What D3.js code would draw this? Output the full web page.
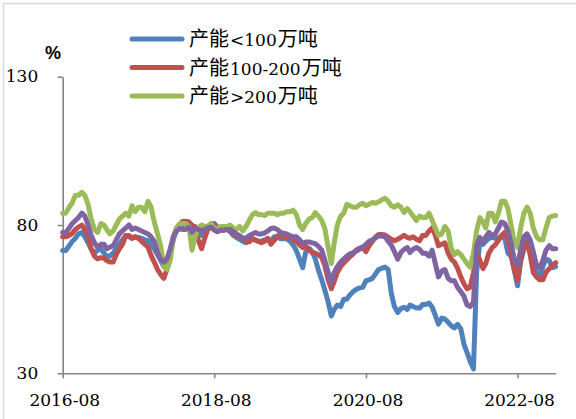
<!DOCTYPE html>
<html>
<head>
<meta charset="utf-8">
<script src="https://cdn.jsdelivr.net/npm/d3@7/dist/d3.min.js"></script>
<style>
  html, body { margin: 0; padding: 0; background: #fff; }
  svg { display: block; }
  .num { font-family: "DejaVu Serif", serif; }
  .cjk { font-family: "Noto Sans CJK SC", sans-serif; }
</style>
</head>
<body>
<svg id="chart" width="576" height="419"></svg>
<script>
// Capacity utilisation (%) by plant size, semi-monthly samples (1st and 16th of each month)
const firstSample = "2016-08-01";
const sampleCount = 157;

const seriesNames = ["产能<100万吨", "产能100-200万吨", "产能>200万吨", ""];

const under100 = [
  71.4, 71.4,73,74.5,75.5,77,77.5,76,74,72,70.5, 71.5,72,70.5,69.5,69.5,70.5,72,73.5,75,76.4,
  76,75.5,76,75.8,75.5,75,74.7,73.5,72,70, 68,66,65.5,70,75,79,79.3,80,80.5,80.8,
  80,79,77.5,76.5,78,79.5,80.3,80.5,79.3,79,
  79, 78.5,77.8,76.5,75.8,75.2,74.5,74,74.8,75.4,74.8, 74.5,74.5,75,75.4,74.5,76,76.2,75.4,75.4,75.4,
  74.5,73.3,71.3,68.5,65.6,71,72.2,71,68.5,64.8, 61.5,58,54,49.3,51.5,53,52.5,55,55,56.5,
  57.6,58.3,58.8,59,61.2,61.5,62,63.5,65,65.4, 65.8,65,57,52.5,50.5,51.8,52.3,51.5,53,52.5,
  52,52,53.2,
  53.2, 53.7,52.3,49.5,46.6,48.6,48.3,47.2, 46,45.3,46.5,45,39.8,37,34,31.5,64,74.5,
  73.5,74.5,75.5,75.8,75.5,75.7,75.8,75.5,70.5,69.5, 65,59.5,67.5,72,74.7,71.4,66,64,62,66,
  68.5,68,65.6,66
];

const from100to200 = [
  76, 76,76.5,77.2,78.5,79.3,80,78.5,76.5,72,69.5, 68.6,69,68.8,68,67.5,67.5,70,72,73.5,76.5,
  76.5,75.5,76,75.5,74.5,73.5,72.5,69.7,67.5,65, 63.3,62,65,70.5,76,79,80.2,81.2,81.3,81,
  79.5,79.5,75,72,75.5,78.5,79.2,80,78,78.2,
  78.2, 78.8,78.2,77,76.5,76,75.5,74.5,74.3,75.3,75, 74.5,74,74.5,75.5,73.5,74.8,76,77,76,75.5,
  76,75,74.5,73.3,72.4,72.8,71.5,70.7,70.5,70, 69,66.3,61.5,58.5,61,64,66,67.2,68.3,69.3,
  70.3,71.6,72.2,72.5,71,73,74.5,76,76.8,76.8, 76.6,75.9,75.2,74.7,75.2,75.8,76.5,75.8,75.5,76,
  75.2,74.7,76.5,
  76.5, 78,79,76.5,73,73.5,74,70.5, 68.5,67.5,65.5,62.5,60.2,58.5,59,64,70.5,68,
  65.3,67,70.5,72.4,73.3,74.8,76.5,77.5,75,70.5, 65,61.2,68.5,73,74,70,64,62.5,61.5,61.5,
  64,65.3,66.5,67.3
];

const over200 = [
  84, 84,86,87.5,90,90,91,90,87,82,78.5, 77.5,80.5,80,78.5,77,78,80,82,83,84,
  83,86.5,84.5,86,86,84.5,88,86,81,77, 73,66,65,68,76,79,80.5,80.5,80.5,79.5,
  71.5,76,79,80,79.5,79.5,80.5,79,78.5,79.5,
  79.5, 79.5,80,79,78.5,79.5,78,79.5,81.5,83.5,84.2, 83.5,83.5,83.2,84,84,84,83.5,84,84,84.5,
  84.5,85,83.5,80,78.5,80.5,82,82.5,84.2,83, 81.5,78.8,72.4,67,74,80,83,84,87,86.5,
  86,86,86.8,87.3,86.5,87,87.6,87.3,87.8,88.5, 89,88,86.5,86,86.8,86,84.2,85.5,84.5,83,
  81.5,83,82.5,
  82.5, 84,81.5,79,76.5,77,79.5,78, 72,70,71,70,68.5,67,65.8,70.5,78,82.5,
  81,79,84,84,81,84,88,88,85.5,80, 74.5,72.4,79,84,86,84,79,76,75,75,
  79,82.5,83,83.2
];

const overall = [
  77.5, 77.5,79,80.5,81.5,82.5,84,83,80,76.5,74, 72.5,73.5,73.5,72,72.5,73,75,77,78,79,
  80,78.5,79,78.5,78,77.5,77,76,74.5,70.7, 68.5,67.5,68.5,72,76,78,78.8,78.5,78.5,79.2,
  77.5,79,78.5,78,78.5,79,79.3,78.3,77.7,78.3,
  78.3, 78.5,78.5,77.8,77,76.4,75.6,75.6,76.4,77,77.5, 77,77,77.3,78,78.8,79,78.5,77.5,77.2,77,
  76.4,76,76,75,73.8,74.3,74.3,74,73.7,72.8, 71.5,68,64,60.5,64,66,67.5,68.5,69.5,70.3,
  70.7,71.2,71.8,72.5,73.5,74.5,75,75.6,76.4,76.3, 76,74.5,73.2,71,68.5,70.7,71.8,72.4,70.7,71.8,
  72.4,71.8,70.5,
  70.5, 69.5,71.5,67,62.5,64.5,65,62, 61.2,61.2,59,57.5,56,53,52.5,54,73,75.8,
  74,76,77.5,76.5,77,79,81,80.5,78,74, 68.5,66.3,71.5,76,77,75,71,66.3,65.5,68,
  71.5,73,72,72
];

const xTickLabels = ["2016-08", "2018-08", "2020-08", "2022-08"];
const yTickValues = [30, 80, 130];
const axisEnd = "2023-02-01";

const seriesColors = ["#4F81BD", "#C0504D", "#9BBB59", "#8064A2"];

// Sample dates: 1st and 16th of each month
const parseDay = d3.timeParse("%Y-%m-%d");
const parseMonth = d3.timeParse("%Y-%m");
const start = parseDay(firstSample);
const dates = d3.range(sampleCount).map(k => {
  const m = d3.timeMonth.offset(start, Math.floor(k / 2));
  return k % 2 ? d3.timeDay.offset(m, 15) : m;
});

const series = [under100, from100to200, over200, overall];

const svg = d3.select("#chart");

// outer frame
svg.append("rect")
  .attr("x", 3.5).attr("y", 3.5)
  .attr("width", 600).attr("height", 440)
  .attr("fill", "#fff")
  .attr("stroke", "#d9d9d9")
  .attr("stroke-width", 1.5);

const x = d3.scaleTime()
  .domain([start, parseDay(axisEnd)])
  .range([62.7, 555.7]);

const y = d3.scaleLinear()
  .domain([30, 130])
  .range([373.3, 76.7]);

const axisColor = "#868686";

// x axis
const xAxis = svg.append("g")
  .attr("transform", `translate(0,${y(30)})`)
  .call(d3.axisBottom(x)
    .tickValues(xTickLabels.map(parseMonth))
    .tickFormat(d3.timeFormat("%Y-%m"))
    .tickSizeInner(5)
    .tickSizeOuter(0)
    .tickPadding(15.5));
xAxis.attr("font-family", null).attr("font-size", null);
xAxis.select(".domain").attr("stroke", axisColor).attr("stroke-width", 1.6);
xAxis.selectAll(".tick line").attr("stroke", axisColor).attr("stroke-width", 1.6);
xAxis.selectAll(".tick text")
  .attr("class", "num")
  .attr("fill", "#000")
  .attr("dx", 1.5)
  .attr("font-size", 17);

// y axis
const yAxis = svg.append("g")
  .attr("transform", `translate(${x(start)},0)`)
  .call(d3.axisLeft(y)
    .tickValues(yTickValues)
    .tickFormat(d3.format("d"))
    .tickSizeInner(5)
    .tickSizeOuter(0)
    .tickPadding(19.5));
yAxis.attr("font-family", null).attr("font-size", null);
yAxis.select(".domain").attr("stroke", axisColor).attr("stroke-width", 1.6);
yAxis.selectAll(".tick line").attr("stroke", axisColor).attr("stroke-width", 1.6);
yAxis.selectAll(".tick text")
  .attr("class", "num")
  .attr("fill", "#000")
  .attr("dy", "0.3em")
  .attr("font-size", 17);

// unit label
svg.append("text")
  .attr("x", 53).attr("y", 59)
  .attr("text-anchor", "middle")
  .attr("font-family", "'Liberation Sans', Arial, sans-serif")
  .attr("font-weight", "bold")
  .attr("font-size", 18)
  .text("%");

// series lines
const line = d3.line()
  .x((d, i) => x(dates[i]))
  .y(d => y(d));

svg.append("g")
  .selectAll("path")
  .data(series)
  .join("path")
  .attr("d", d => line(d))
  .attr("fill", "none")
  .attr("stroke", (d, i) => seriesColors[i])
  .attr("stroke-width", 5)
  .attr("stroke-linejoin", "round")
  .attr("stroke-linecap", "round");

// legend: Chinese runs in the CJK face, digits and symbols in the serif face
const legendRows = [39, 67.5, 96];
const legend = svg.append("g");
seriesNames.slice(0, 3).forEach((name, i) => {
  const g = legend.append("g").attr("transform", `translate(0,${legendRows[i]})`);
  g.append("line")
    .attr("x1", 132).attr("x2", 182)
    .attr("y1", 0).attr("y2", 0)
    .attr("stroke", seriesColors[i])
    .attr("stroke-width", 5)
    .attr("stroke-linecap", "round");
  const t = g.append("text")
    .attr("x", 188).attr("y", 7)
    .attr("fill", "#000");
  name.split(/([\u4e00-\u9fff]+)/).filter(s => s.length).forEach(run => {
    const isCjk = /[\u4e00-\u9fff]/.test(run);
    t.append("tspan")
      .attr("class", isCjk ? "cjk" : "num")
      .attr("font-size", isCjk ? 20 : 17)
      .attr("dx", isCjk ? 1 : 1)
      .text(run);
  });
});
</script>
</body>
</html>
